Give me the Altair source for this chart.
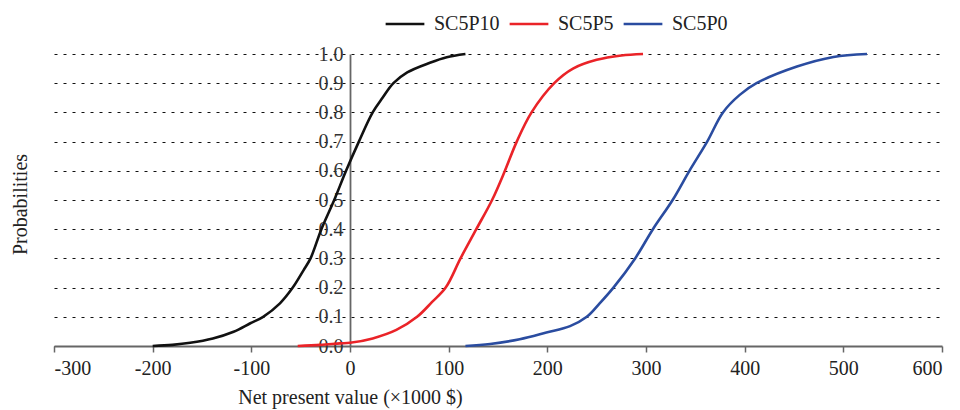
import altair as alt
import pandas as pd

series_names = ["SC5P10", "SC5P5", "SC5P0"]
series_colors = ["#111111", "#ea2328", "#2a4ca0"]

black_x = [-200, -180, -162, -139, -118, -101, -88, -71, -58, -47, -40, -29, -16, -4, 9, 23, 33, 44, 58, 81, 98, 117]
black_p = [0.0, 0.004, 0.011, 0.026, 0.049, 0.078, 0.10, 0.146, 0.20, 0.26, 0.30, 0.40, 0.50, 0.60, 0.70, 0.80, 0.85, 0.90, 0.937, 0.97, 0.989, 1.0]

red_x = [-53, -30, -10, 0, 23, 47, 68, 83, 97, 112, 128, 144, 157, 169, 184, 207, 226, 250, 275, 297]
red_p = [0.0, 0.004, 0.009, 0.011, 0.026, 0.055, 0.10, 0.15, 0.20, 0.30, 0.40, 0.50, 0.60, 0.70, 0.80, 0.90, 0.95, 0.98, 0.995, 1.0]

blue_x = [117, 142, 172, 199, 223, 240, 253, 267, 289, 307, 327, 344, 362, 378, 395, 412, 453, 490, 524]
blue_p = [0.0, 0.007, 0.023, 0.046, 0.068, 0.10, 0.146, 0.20, 0.30, 0.40, 0.50, 0.60, 0.70, 0.80, 0.86, 0.90, 0.957, 0.99, 1.0]

x_ticks = [-300, -200, -100, 0, 100, 200, 300, 400, 500, 600]
y_ticks = [0.0, 0.1, 0.2, 0.3, 0.4, 0.5, 0.6, 0.7, 0.8, 0.9, 1.0]

rows = []
for name, xs, ps in zip(series_names, [black_x, red_x, blue_x], [black_p, red_p, blue_p]):
    for i, (xv, pv) in enumerate(zip(xs, ps)):
        rows.append({"series": name, "npv": xv, "prob": pv, "order": i})
df = pd.DataFrame(rows)

FONT = "Liberation Serif, Times New Roman, Times, serif"
W, H = 888, 292
y_axis_offset = -W * 300 / 900  # place y axis at x = 0

lines = alt.Chart(df).mark_line(strokeWidth=2.6, interpolate="catmull-rom").encode(
    x=alt.X("npv:Q",
            scale=alt.Scale(domain=[-300, 600], nice=False, zero=False),
            axis=alt.Axis(values=x_ticks, title="Net present value (×1000 $)",
                          labelExpr="replace(datum.label, '\u2212', '-')",
                          grid=False, tickSize=6, tickColor="#666666", tickWidth=1.5,
                          domainColor="#666666", domainWidth=1.8,
                          labelPadding=6, labelFontSize=20, labelColor="#222222",
                          labelFont=FONT, titleFont=FONT,
                          titleFontSize=20, titleFontWeight="normal", titleColor="#222222",
                          titleX=W * 300 / 900, titlePadding=9)),
    y=alt.Y("prob:Q",
            scale=alt.Scale(domain=[0, 1], nice=False),
            axis=alt.Axis(values=y_ticks, format=".1f", title="Probabilities",
                          offset=y_axis_offset, grid=True, gridDash=[3, 6],
                          gridColor="#111111", gridWidth=1,
                          ticks=False, labelPadding=7, labelFontSize=20,
                          labelFont=FONT, titleFont=FONT,
                          labelColor="#333333", domainColor="#666666", domainWidth=1.8,
                          titleFontSize=20, titleFontWeight="normal", titleColor="#222222",
                          titleX=-W * 300 / 900 - 34, titleY=H / 2 + 4,
                          titleAngle=270, titleAlign="center", titleBaseline="middle")),
    color=alt.Color("series:N",
                    scale=alt.Scale(domain=series_names, range=series_colors),
                    sort=series_names,
                    legend=alt.Legend(title=None, orient="none", direction="horizontal",
                                      legendX=330, legendY=-51,
                                      symbolType="stroke", symbolSize=1500,
                                      symbolStrokeWidth=2.6, labelFontSize=20,
                                      labelFont=FONT,
                                      labelColor="#222222", labelOffset=8,
                                      columnPadding=4)),
    order="order:Q",
)

chart = lines.properties(
    width=W, height=H,
    autosize=alt.AutoSizeParams(type="none"),
    padding={"left": 46, "top": 46, "right": 10, "bottom": 64},
).configure(font=FONT).configure_view(stroke=None)

chart.save("out.html", embed_options={"renderer": "svg", "actions": False})
